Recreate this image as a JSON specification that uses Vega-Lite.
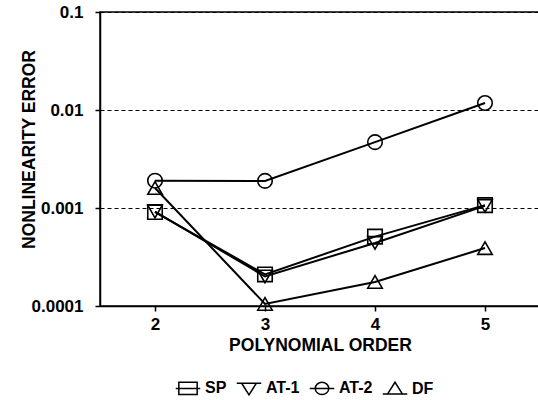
{
  "$schema": "https://vega.github.io/schema/vega-lite/v6.json",
  "width": 440,
  "height": 294,
  "autosize": "none",
  "padding": {"left": 100, "top": 12, "right": 0, "bottom": 94},
  "background": "white",
  "config": {
    "font": "Liberation Sans",
    "view": {"stroke": "black", "strokeWidth": 1.5},
    "axis": {"labelFont": "Liberation Sans", "titleFont": "Liberation Sans", "labelColor": "black", "titleColor": "black", "domainColor": "black", "tickColor": "black", "domainWidth": 1.5, "tickWidth": 1.5}
  },
  "data": {
    "values": [
      {"order": 2, "series": "SP", "error": 0.00091},
      {"order": 3, "series": "SP", "error": 0.00021},
      {"order": 4, "series": "SP", "error": 0.00051},
      {"order": 5, "series": "SP", "error": 0.00107},
      {"order": 2, "series": "AT-1", "error": 0.00092},
      {"order": 3, "series": "AT-1", "error": 0.0002},
      {"order": 4, "series": "AT-1", "error": 0.00044},
      {"order": 5, "series": "AT-1", "error": 0.00105},
      {"order": 2, "series": "AT-2", "error": 0.0019},
      {"order": 3, "series": "AT-2", "error": 0.00189},
      {"order": 4, "series": "AT-2", "error": 0.0047},
      {"order": 5, "series": "AT-2", "error": 0.0118},
      {"order": 2, "series": "DF", "error": 0.0016},
      {"order": 3, "series": "DF", "error": 0.000105},
      {"order": 4, "series": "DF", "error": 0.000176},
      {"order": 5, "series": "DF", "error": 0.00039}
    ]
  },
  "encoding": {
    "x": {
      "field": "order",
      "type": "quantitative",
      "scale": {"domain": [1.5, 5.5], "nice": false, "zero": false},
      "axis": {
        "values": [2, 3, 4, 5],
        "format": "d",
        "grid": false,
        "tickSize": 5,
        "labelPadding": 5,
        "labelFontSize": 17,
        "labelFontWeight": "bold",
        "title": "POLYNOMIAL ORDER",
        "titleFontSize": 17.5,
        "titleFontWeight": "bold",
        "titlePadding": 4
      }
    },
    "y": {
      "field": "error",
      "type": "quantitative",
      "scale": {"type": "log", "domain": [0.0001, 0.1], "nice": false},
      "axis": {
        "values": [0.0001, 0.001, 0.01, 0.1],
        "format": ".4~f",
        "grid": true,
        "gridDash": [4, 3],
        "gridColor": "black",
        "gridWidth": 1,
        "gridOpacity": 1,
        "tickSize": 5,
        "labelPadding": 12,
        "labelFontSize": 17,
        "labelFontWeight": "bold",
        "title": "NONLINEARITY ERROR",
        "titleFontSize": 17.5,
        "titleFontWeight": "bold",
        "titleX": -71,
        "titleY": 137,
        "titleAngle": -90,
        "titleAlign": "center",
        "titleBaseline": "middle"
      }
    }
  },
  "resolve": {"scale": {"shape": "independent"}},
  "layer": [
    {
      "mark": {"type": "line", "color": "black", "strokeWidth": 2},
      "encoding": {"detail": {"field": "series"}}
    },
    {
      "mark": {"type": "point", "filled": false, "stroke": "black", "strokeWidth": 1.6, "size": 210, "opacity": 1},
      "encoding": {
        "shape": {
          "field": "series",
          "type": "nominal",
          "scale": {"domain": ["SP", "AT-1", "AT-2", "DF"], "range": ["square", "triangle-down", "circle", "triangle-up"]},
          "legend": null
        }
      }
    },
    {
      "mark": {"type": "point", "filled": false, "stroke": "black", "strokeOpacity": 0, "fillOpacity": 0, "size": 10},
      "encoding": {
        "shape": {
          "field": "series",
          "type": "nominal",
          "scale": {
            "domain": ["SP", "AT-1", "AT-2", "DF"],
            "range": [
              "M-1,0H1M-0.75,-0.5H0.75V0.5H-0.75Z",
              "M-1,-0.4H1M-0.6,-0.4L0,0.55L0.6,-0.4Z",
              "M-1,0H1M0.55,0A0.55,0.5 0 1,1 -0.55,0A0.55,0.5 0 1,1 0.55,0Z",
              "M-1,0.4H1M-0.6,0.4L0,-0.55L0.6,0.4Z"
            ]
          },
          "legend": {
            "orient": "none",
            "legendX": 75,
            "legendY": 363,
            "direction": "horizontal",
            "title": null,
            "padding": 0,
            "symbolSize": 600,
            "symbolStrokeWidth": 1.5,
            "symbolStrokeColor": "black",
            "symbolFillColor": "transparent",
            "symbolOpacity": 1,
            "labelFontSize": 16,
            "labelFontWeight": "bold",
            "labelColor": "black",
            "labelOffset": 4,
            "columnPadding": 6,
            "encode": {
              "symbols": {
                "update": {
                  "opacity": {"value": 1},
                  "strokeOpacity": {"value": 1},
                  "stroke": {"value": "black"}
                }
              }
            }
          }
        }
      }
    }
  ]
}
